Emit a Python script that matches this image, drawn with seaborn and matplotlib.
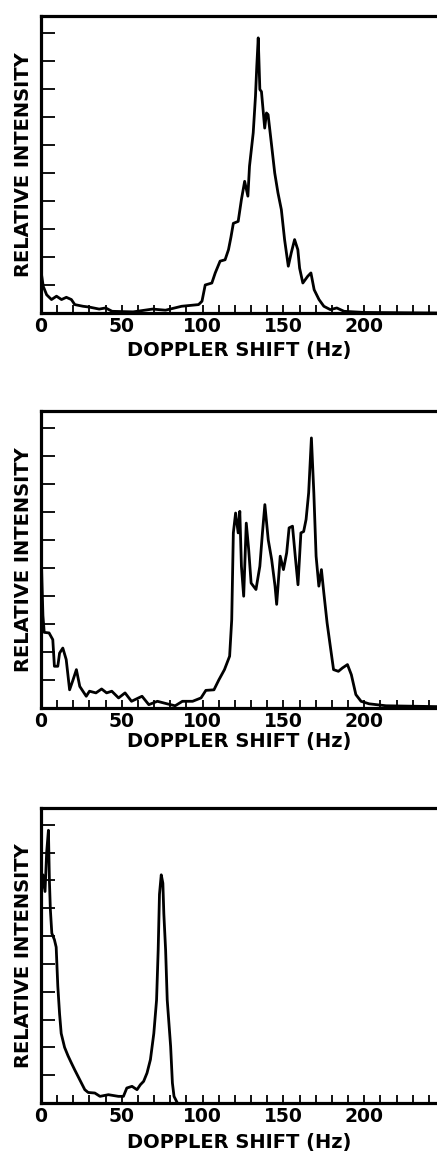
import numpy as np
import pandas as pd
import seaborn as sns
import matplotlib.pyplot as plt
from matplotlib.ticker import MultipleLocator

# spectra (Hz, intensity in y-tick units)
top_hz = [0, 1.4, 3.5, 6.5, 9.6, 12.7, 15.7, 18.8, 20.9, 26, 30, 36, 40, 44, 57, 69, 77, 87,
          97.5, 99.6, 101.6, 105.7, 107.8, 110.8, 113.9, 116, 117.5, 119, 122, 124, 126, 128,
          129, 131.3, 132.7, 133.5, 134.4, 135.4, 136.4, 138.4, 139.5, 140.5, 142.5, 144.6,
          146.6, 148.7, 150.7, 153, 154.8, 156.9, 158.9, 160, 162, 165, 167, 169, 172, 175,
          179, 183, 187.5, 200, 245]
top_int = [1.5, 0.95, 0.65, 0.48, 0.6, 0.48, 0.56, 0.48, 0.3, 0.24, 0.21, 0.14, 0.18, 0.06,
           0.04, 0.14, 0.1, 0.24, 0.3, 0.42, 1.0, 1.07, 1.43, 1.85, 1.9, 2.26, 2.7, 3.2, 3.27,
           4.05, 4.7, 4.17, 5.24, 6.43, 7.74, 8.8, 9.82, 7.98, 7.9, 6.6, 7.14, 7.08, 6.07, 5.0,
           4.29, 3.69, 2.62, 1.67, 2.14, 2.62, 2.26, 1.6, 1.07, 1.31, 1.43, 0.83, 0.48, 0.24,
           0.12, 0.18, 0.06, 0.02, 0.0]

mid_hz = [0, 0.6, 1.2, 2.0, 5, 7.3, 8.3, 10.4, 11.5, 13.5, 15.6, 17.7, 19.8, 21.9, 24, 28, 30,
          34, 37.5, 40.6, 43.8, 48, 52, 56, 62.5, 66.7, 72, 78, 83, 87.5, 93.8, 99, 102, 107,
          110, 113.5, 116.7, 118, 119, 120.4, 122, 123, 124, 125.4, 127, 128.5, 130, 133,
          135.4, 137, 138.5, 140.6, 142.7, 144.8, 145.8, 148, 150, 152, 153.5, 155.6, 157.3,
          159, 160.8, 162.5, 164, 165.6, 167.3, 168.8, 170.2, 171.9, 173.5, 175, 177, 179,
          181, 184, 186.5, 189.6, 192, 194.8, 198, 203, 213.5, 245]
mid_int = [5.8, 4.5, 3.3, 2.7, 2.68, 2.44, 1.49, 1.49, 1.96, 2.14, 1.73, 0.65, 1.0, 1.37, 0.77,
           0.42, 0.6, 0.54, 0.68, 0.54, 0.6, 0.36, 0.54, 0.24, 0.42, 0.12, 0.24, 0.15, 0.08,
           0.24, 0.24, 0.36, 0.63, 0.65, 1.0, 1.37, 1.85, 3.15, 6.25, 6.96, 6.25, 7.02, 5.06,
           3.99, 6.6, 5.65, 4.46, 4.23, 5.06, 6.25, 7.26, 6.0, 5.3, 4.35, 3.7, 5.42, 4.94,
           5.54, 6.43, 6.49, 5.42, 4.4, 6.25, 6.3, 6.73, 7.68, 9.64, 7.68, 5.42, 4.35, 4.94,
           4.1, 3.04, 2.2, 1.37, 1.31, 1.43, 1.55, 1.19, 0.48, 0.24, 0.15, 0.08, 0.05]

low_hz = [0, 1.2, 2.5, 3.5, 4.6, 5.2, 5.8, 6.7, 8.3, 9.4, 10.4, 11.5, 12.5, 14.6, 16.7, 18.8,
          20.8, 22.9, 25, 27.1, 29.2, 33.3, 36.5, 41.7, 47.9, 51, 53.1, 56.3, 59.4, 61.5, 63.5,
          65.6, 67.7, 69.8, 71.5, 72.5, 73.3, 74.4, 75.4, 76, 77.1, 78.1, 80.2, 81.3, 82.3,
          84.4]
low_int = [7.4, 8.2, 7.6, 9.0, 9.8, 8.0, 6.95, 6.1, 5.87, 5.6, 4.2, 3.2, 2.5, 2.0, 1.7, 1.44,
           1.2, 0.96, 0.72, 0.48, 0.38, 0.36, 0.24, 0.3, 0.24, 0.24, 0.54, 0.6, 0.48, 0.66,
           0.78, 1.08, 1.56, 2.5, 3.7, 5.5, 7.5, 8.2, 7.9, 6.8, 5.5, 3.7, 2.04, 0.72, 0.24, 0.0]

xtick_labels = ["0", "50", "100", "150", "200"]

sns.set_style("ticks")
plt.rcParams["font.family"] = ["DejaVu Sans"]
plt.rcParams["font.weight"] = "bold"
plt.rcParams["text.color"] = "black"
plt.rcParams["axes.labelcolor"] = "black"
plt.rcParams["xtick.color"] = "black"
plt.rcParams["ytick.color"] = "black"

fig = plt.figure(figsize=(4.37, 11.52), dpi=100)

# bottom, height, xlabel pad for each panel
panels = [
    (top_hz, top_int, 0.7283, 0.2578, 3.5),
    (mid_hz, mid_int, 0.3854, 0.2578, 0.5),
    (low_hz, low_int, 0.0425, 0.2561, 5.0),
]

for hz, inten, bottom, height, xpad in panels:
    ax = fig.add_axes([0.0938, bottom, 0.9062, height])
    df = pd.DataFrame({"hz": hz, "intensity": inten})
    sns.lineplot(data=df, x="hz", y="intensity", ax=ax, color="black",
                 linewidth=2.0, sort=False, estimator=None)
    ax.set_xlim(0, 245)
    ax.set_ylim(0, 10.6)

    ax.set_xticks([0, 50, 100, 150, 200])
    ax.set_xticklabels(xtick_labels, fontsize=13.5, fontweight="bold", color="black")
    ax.xaxis.set_minor_locator(MultipleLocator(10))
    ax.set_yticks(np.arange(1, 11))
    ax.set_yticklabels([])

    ax.tick_params(axis="x", which="both", direction="in", length=6, width=1.3,
                   pad=3, color="black", top=False)
    ax.tick_params(axis="y", which="both", direction="in", length=10, width=1.3,
                   color="black", right=False)

    for side in ["top", "left", "bottom"]:
        ax.spines[side].set_linewidth(2.3)
        ax.spines[side].set_color("black")
    ax.spines["right"].set_visible(False)

    ax.set_xlabel("DOPPLER SHIFT (Hz)", fontsize=14, fontweight="bold", labelpad=xpad,
                  color="black")
    ax.set_ylabel("RELATIVE INTENSITY", fontsize=14, fontweight="bold", labelpad=2,
                  color="black")

plt.savefig("out.png", dpi=100)
